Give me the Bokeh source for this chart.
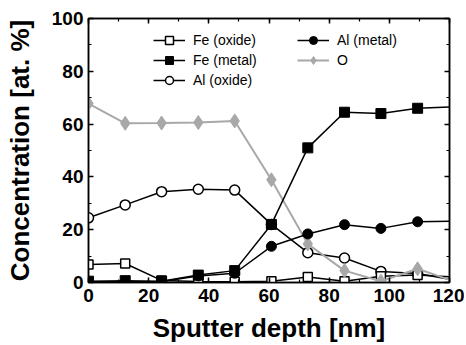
from bokeh.plotting import figure
from bokeh.models import (Range1d, LinearAxis, Legend, LegendItem, FixedTicker)
from bokeh.embed import file_html
from bokeh.resources import INLINE

# ---- data ----
depth = [0, 12.2, 24.3, 36.5, 48.6, 60.8, 72.9, 85.1, 97.2, 109.4, 120]
fe_oxide = [6.8, 7.2, 0.8, 0.4, 0.3, 0.5, 2.1, 0.5, 2.4, 2.8, 2.2]
fe_metal = [0.5, 0.7, 0.5, 2.8, 4.5, 22.0, 51.0, 64.5, 64.0, 66.0, 66.5]
al_oxide = [24.5, 29.4, 34.4, 35.3, 35.0, 22.0, 11.3, 9.3, 4.2, 3.4, 1.2]
al_metal = [0.3, 0.3, 0.4, 2.5, 3.5, 13.7, 18.4, 21.9, 20.5, 23.0, 23.2]
oxygen = [67.8, 60.3, 60.4, 60.6, 61.2, 38.9, 14.6, 4.5, 0.5, 5.2, 1.0]
n_meas = 10  # measured points carry markers; last value is the line end at the frame edge

x_ticks = [0, 20, 40, 60, 80, 100, 120]
y_ticks = [0, 20, 40, 60, 80, 100]

FONT = "Liberation Sans"
GRAY = "#a8a8a8"

p = figure(width=464, height=345, output_backend="svg", toolbar_location=None,
           x_range=Range1d(0, 120), y_range=Range1d(0, 100),
           min_border_left=88, min_border_right=15, min_border_top=18, min_border_bottom=62)
p.grid.visible = False
p.outline_line_color = "black"
p.outline_line_width = 1.5
p.background_fill_color = "white"
p.border_fill_color = "white"

def style_axis(ax, labels=True):
    ax.axis_line_width = 1.5
    ax.axis_line_color = "black"
    ax.major_tick_in = 5
    ax.major_tick_out = 0
    ax.minor_tick_in = 3
    ax.minor_tick_out = 0
    ax.major_tick_line_width = 1.5
    ax.minor_tick_line_width = 1.2
    ax.major_label_text_font = FONT
    ax.major_label_text_font_style = "bold"
    ax.major_label_text_font_size = "19px"
    ax.major_label_text_color = "black"
    ax.axis_label_text_font = FONT
    ax.axis_label_text_font_style = "bold"
    ax.axis_label_text_font_size = "26px"
    ax.axis_label_text_color = "black"
    if not labels:
        ax.major_label_text_font_size = "0px"
        ax.major_label_text_alpha = 0
        ax.major_label_standoff = 0

xa = p.xaxis[0]
ya = p.yaxis[0]
xa.ticker = FixedTicker(ticks=x_ticks, minor_ticks=list(range(0, 121, 10)))
ya.ticker = FixedTicker(ticks=y_ticks, minor_ticks=list(range(0, 101, 10)))
style_axis(xa)
style_axis(ya)
xa.axis_label = "Sputter depth [nm]"
ya.axis_label = "Concentration [at. %]"
xa.major_label_standoff = 6
ya.major_label_standoff = 5
xa.axis_label_standoff = 8
ya.axis_label_standoff = 14

top = LinearAxis(ticker=FixedTicker(ticks=x_ticks, minor_ticks=list(range(0, 121, 10))))
right = LinearAxis(ticker=FixedTicker(ticks=y_ticks, minor_ticks=list(range(0, 101, 10))))
style_axis(top, labels=False)
style_axis(right, labels=False)
p.add_layout(top, "above")
p.add_layout(right, "right")

# ---- series ----
d_m = depth[:n_meas]

l_ao = p.line(depth, al_oxide, line_color="black", line_width=1.5)
s_ao = p.scatter(d_m, al_oxide[:n_meas], marker="circle", size=10,
                 fill_color="white", line_color="black", line_width=1.5)

l_fo = p.line(depth, fe_oxide, line_color="black", line_width=1.5)
s_fo = p.scatter(d_m, fe_oxide[:n_meas], marker="square", size=9,
                 fill_color="white", line_color="black", line_width=1.5)

l_o = p.line(depth, oxygen, line_color=GRAY, line_width=2)
s_o = p.scatter(d_m, oxygen[:n_meas], marker="diamond", size=14,
                fill_color=GRAY, line_color=GRAY)

l_am = p.line(depth, al_metal, line_color="black", line_width=1.5)
s_am = p.scatter(d_m, al_metal[:n_meas], marker="circle", size=10,
                 fill_color="black", line_color="black")

l_fm = p.line(depth, fe_metal, line_color="black", line_width=1.5)
s_fm = p.scatter(d_m, fe_metal[:n_meas], marker="square", size=10,
                 fill_color="black", line_color="black")

def make_legend(items, loc):
    return Legend(items=items, location=loc, orientation="vertical",
                  background_fill_alpha=0, border_line_alpha=0,
                  padding=0, margin=0, spacing=0,
                  glyph_width=32, glyph_height=20, label_height=20,
                  label_standoff=8, label_text_font=FONT,
                  label_text_font_size="14px", label_text_color="black")

leg1 = make_legend([
    LegendItem(label="Fe (oxide)", renderers=[l_fo, s_fo]),
    LegendItem(label="Fe (metal)", renderers=[l_fm, s_fm]),
    LegendItem(label="Al (oxide)", renderers=[l_ao, s_ao]),
], (65, 192))
leg2 = make_legend([
    LegendItem(label="Al (metal)", renderers=[l_am, s_am]),
    LegendItem(label="O", renderers=[l_o, s_o]),
], (209, 212))
p.add_layout(leg1, "center")
p.add_layout(leg2, "center")

open("out.html", "w").write(file_html(p, INLINE))
